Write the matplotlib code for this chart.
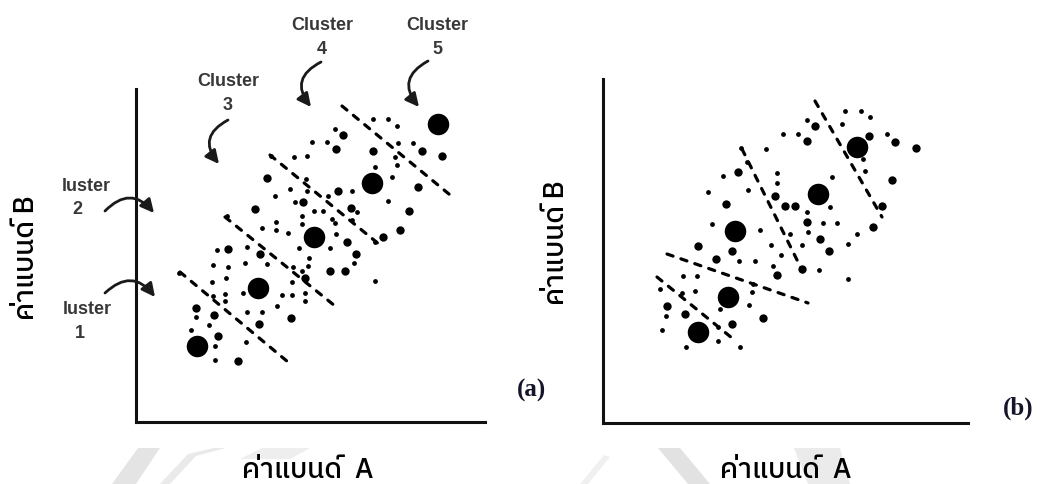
import matplotlib
matplotlib.use('Agg')
import matplotlib.pyplot as plt
from matplotlib import font_manager
from matplotlib.ft2font import FT2Font
from matplotlib.patches import FancyArrowPatch, Polygon

W, H = 1051, 485

# ---- panel (a): five clusters along the diagonal ----
a_big_x = [61, 122, 178, 236, 302]
a_big_y = [76, 134, 185, 239, 298]

a_med_x = [119, 92, 124, 194, 220, 155, 78, 82, 102, 60, 169, 211, 209, 207, 200, 237,
           286, 306, 131, 202, 282, 273, 264, 247, 167, 215, 123]
a_med_y = [213, 173, 168, 151, 168, 104, 107, 86, 61, 114, 144, 180, 151, 287, 273, 271,
           271, 266, 244, 231, 235, 211, 192, 185, 220, 214, 98]

a_small_x = [81, 91, 140, 126, 152, 111, 140, 109, 131, 77, 92, 43, 90, 76, 107, 89, 77,
             89, 146, 156, 169, 169, 141, 156, 111, 126, 60, 73, 55, 110, 79, 79, 163,
             173, 172, 166, 157, 194, 200, 166, 178, 187, 167, 199, 218, 237, 252, 261,
             199, 176, 191, 171, 158, 135, 239, 262, 277, 259, 261, 256, 170, 154, 139,
             171, 216, 192, 159, 196, 216, 221, 252, 166, 239, 239]
a_small_y = [172, 206, 200, 194, 189, 175, 192, 159, 158, 157, 155, 149, 144, 140, 129,
             128, 126, 121, 127, 127, 129, 121, 116, 140, 110, 110, 105, 97, 92, 80, 76,
             62, 174, 164, 156, 151, 155, 174, 188, 206, 211, 211, 221, 199, 159, 303,
             303, 296, 293, 280, 280, 266, 265, 266, 255, 279, 279, 265, 257, 245, 243,
             233, 226, 231, 231, 226, 220, 203, 202, 210, 221, 198, 141, 180]

# dashed boundaries between clusters (start x, start y, end x, end y)
a_bounds = [(44, 150, 152, 60), (89, 205, 199, 116), (134, 267, 244, 177), (206, 316, 319, 223)]

# ---- panel (b): clusters found by the algorithm ----
b_big_x = [95, 125, 132, 215, 254]
b_big_y = [91, 126, 192, 229, 276]

b_med_x = [160, 292, 313, 289, 279, 270, 226, 204, 212, 135, 123, 95, 82, 64, 129, 174,
           217, 204, 172, 182, 192, 113, 129, 266, 199]
b_med_y = [105, 281, 275, 243, 217, 196, 172, 282, 297, 251, 219, 177, 109, 117, 99, 148,
           184, 201, 227, 217, 217, 164, 172, 287, 154]

b_small_x = [59, 83, 137, 115, 63, 57, 79, 92, 94, 80, 117, 146, 149, 150, 115, 109, 105,
             120, 138, 163, 174, 174, 145, 157, 168, 178, 152, 136, 170, 187, 199, 204,
             205, 220, 234, 227, 229, 216, 245, 245, 254, 262, 267, 258, 242, 239, 204,
             195, 180, 284, 260, 144]
b_small_y = [93, 76, 76, 82, 107, 134, 130, 132, 147, 147, 114, 118, 131, 139, 96, 199,
             231, 247, 275, 274, 250, 240, 233, 193, 178, 168, 162, 162, 157, 189, 178,
             211, 191, 200, 200, 216, 246, 153, 144, 179, 189, 252, 306, 312, 312, 299,
             303, 289, 289, 289, 264, 261]

b_bounds = [(212, 322, 279, 206), (139, 274, 200, 151), (64, 169, 205, 120), (54, 146, 129, 85)]


def find_thai_family():
    names = []
    for f in font_manager.fontManager.ttflist:
        try:
            if FT2Font(f.fname).get_char_index(0x0E04):
                names.append(f.name)
        except Exception:
            pass
    names.sort(key=lambda n: ('Sans' not in n, 'Mono' in n, 'Serif' in n))
    return names[0] if names else 'DejaVu Sans'


thai = [find_thai_family(), 'DejaVu Sans']


def fx(x, y):
    return (x / W, 1 - y / H)


def panel(rect, xmax, ymax, bigx, bigy, medx, medy, smallx, smally, bounds):
    ax = fig.add_axes(rect)
    ax.set_xlim(0, xmax)
    ax.set_ylim(0, ymax)
    ax.patch.set_visible(False)
    for s in ['top', 'right']:
        ax.spines[s].set_visible(False)
    for s in ['left', 'bottom']:
        ax.spines[s].set_linewidth(2.2)
        ax.spines[s].set_color('#111111')
    ax.set_xticks([])
    ax.set_yticks([])
    for x0, y0, x1, y1 in bounds:
        ax.plot([x0, x1], [y0, y1], color='black', lw=2.3, dashes=(2.0, 2.6),
                dash_capstyle='round')
    ax.scatter(bigx, bigy, s=240, color='black', zorder=3, linewidths=0)
    ax.scatter(medx, medy, s=36, color='black', zorder=3, linewidths=0)
    ax.scatter(smallx, smally, s=12, color='black', zorder=3, linewidths=0)
    return ax


fig = plt.figure(figsize=(W / 100, H / 100), dpi=100)

# faint watermark behind the x titles
marks = [([(112, 485), (136, 485), (160, 449), (138, 449)], '#e4e4e4'),
         ([(160, 485), (170, 485), (196, 457), (226, 449), (214, 449), (188, 455)], '#eaeaea'),
         ([(240, 460), (262, 449), (310, 449), (290, 460)], '#eeeeee'),
         ([(658, 449), (680, 449), (710, 485), (688, 485)], '#e2e2e2'),
         ([(794, 449), (840, 449), (850, 485), (808, 485)], '#ebebeb'),
         ([(580, 485), (588, 485), (610, 458), (604, 456)], '#f0f0f0')]
for pts, col in marks:
    fig.add_artist(Polygon([fx(*p) for p in pts], closed=True, transform=fig.transFigure,
                           facecolor=col, edgecolor='none', zorder=0))

# panel (a) axes: x 136..485 px, y 90..423 px
panel([136 / W, (H - 423) / H, 349 / W, 333 / H], 349, 333,
      a_big_x, a_big_y, a_med_x, a_med_y, a_small_x, a_small_y, a_bounds)
# panel (b) axes: x 603..968 px, y 80..424 px
panel([603 / W, (H - 424) / H, 365 / W, 344 / H], 365, 344,
      b_big_x, b_big_y, b_med_x, b_med_y, b_small_x, b_small_y, b_bounds)

# axis titles (Thai)
thai_kw = dict(ha='center', va='center', fontsize=20, family=thai, color='black',
               fontweight='medium', zorder=2)
for x, y in [(308, 471), (786, 471)]:
    fig.text(*fx(x, y), 'ค่าแบนด์  A', **thai_kw)
for x, y in [(26, 258), (557, 243)]:
    fig.text(*fx(x, y), 'ค่าแบนด์ B', rotation=90, **thai_kw)

# panel tags
fig.text(*fx(532, 390), '(a)', ha='center', va='center', fontsize=18, fontweight='bold',
         family='Liberation Serif', color='#14142a')
fig.text(*fx(1018, 408), '(b)', ha='center', va='center', fontsize=18, fontweight='bold',
         family='Liberation Serif', color='#14142a')

# cluster labels
lab = dict(ha='center', va='center', fontsize=13, family='Liberation Sans',
           fontweight='bold', color='#383838')
for x, n in [(228, '3'), (322, '4'), (437, '5')]:
    top = 82 if n == '3' else 25
    fig.text(*fx(x, top), 'Cluster', **lab)
    fig.text(*fx(x, top + 24), n, **lab)
fig.text(*fx(86, 187), 'luster', **lab)
fig.text(*fx(77, 210), '2', **lab)
fig.text(*fx(87, 310), 'luster', **lab)
fig.text(*fx(80, 334), '1', **lab)

arrows = [((228, 121), (219, 165), 0.6), ((321, 63), (311, 108), 0.6),
          ((428, 62), (419, 108), 0.6), ((105, 212), (154, 214), -0.55),
          ((105, 294), (155, 298), -0.55)]
for p0, p1, rad in arrows:
    fig.add_artist(FancyArrowPatch(fx(*p0), fx(*p1), transform=fig.transFigure,
                                   connectionstyle=f'arc3,rad={rad}',
                                   arrowstyle='-|>,head_length=0.8,head_width=0.4',
                                   mutation_scale=10, lw=2.0, color='#1a1a1a',
                                   shrinkA=0, shrinkB=0))

fig.savefig('out.png', dpi=100)
